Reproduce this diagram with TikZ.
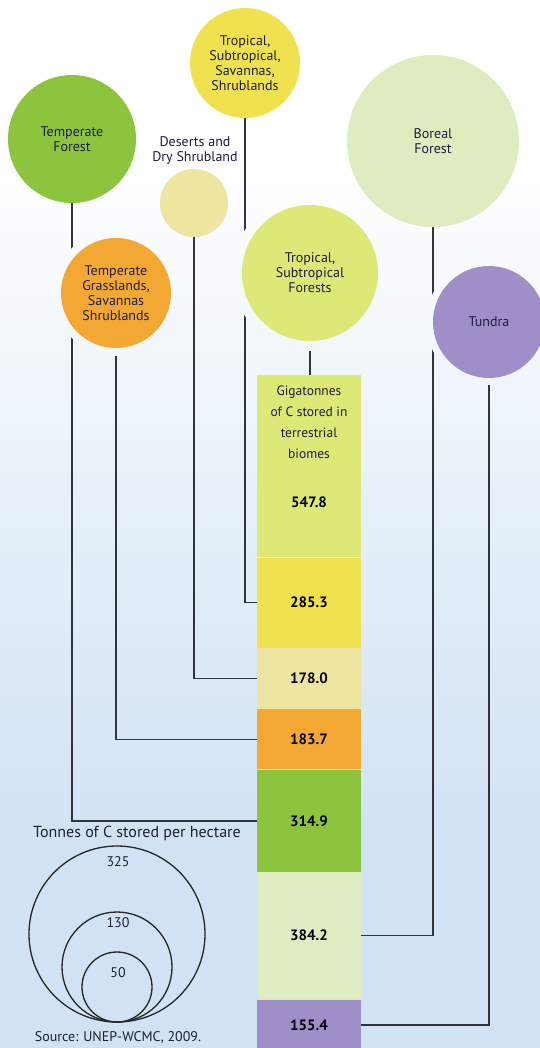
\documentclass[tikz,border=0pt]{standalone}
\usepackage{fontspec}
\setmainfont{PT Sans}

\pgfdeclarelayer{paper}
\pgfdeclarelayer{wires}
\pgfdeclarelayer{halo}
\pgfsetlayers{paper,wires,halo,main}

\definecolor{paperblue}{RGB}{208,226,243}
\definecolor{ink}{RGB}{30,30,62}
\definecolor{wirecol}{RGB}{50,52,60}
\definecolor{tempforest}{RGB}{141,196,62}
\definecolor{savanna}{RGB}{240,226,78}
\definecolor{desert}{RGB}{238,230,160}
\definecolor{boreal}{RGB}{222,236,192}
\definecolor{tropforest}{RGB}{222,232,118}
\definecolor{grassland}{RGB}{244,168,52}
\definecolor{tundra}{RGB}{160,142,200}

\begin{document}
\begin{tikzpicture}[x=1pt,y=1pt]
\tikzstyle{every node}+=[inner sep=0pt]
\tikzstyle{bubble}=[circle,text=ink,align=center,font=\fontsize{14}{15}\selectfont]
\tikzstyle{seg}=[rectangle,minimum width=104pt,anchor=north,text=black,font=\fontsize{15}{17}\selectfont\bfseries]
\tikzstyle{wire}=[draw=wirecol,line width=1.5pt]
\tikzstyle{ring}=[circle,draw=black!85,line width=1.3pt]
\useasboundingbox (0,0) rectangle (540,-1048);
\begin{pgfonlayer}{paper}
\fill [white] (0,0) rectangle (540,-1048);
\shade [top color=white,bottom color=paperblue] (0,-150) rectangle (540,-850);
\fill [paperblue] (0,-850) rectangle (540,-1048);
\end{pgfonlayer}
% biome bubbles
\node [bubble,fill=tempforest,minimum size=128pt] (tf) at (72,-139) {Temperate\\Forest};
\node [bubble,fill=savanna,minimum size=110pt] (sav) at (245,-63) {Tropical,\\Subtropical,\\Savannas,\\Shrublands};
\node [bubble,fill=desert,minimum size=68pt] (des) at (194,-203) {};
\node [text=ink,align=center,font=\fontsize{14}{15}\selectfont] (deslbl) at (195,-150) {Deserts and\\Dry Shrubland};
\node [bubble,fill=boreal,minimum size=172pt] (boreal) at (433,-141) {Boreal\\Forest};
\node [bubble,fill=tropforest,minimum size=136pt] (tropf) at (310,-273) {Tropical,\\Subtropical\\Forests};
\node [bubble,fill=grassland,minimum size=110pt] (grass) at (116,-293) {Temperate\\Grasslands,\\Savannas\\Shrublands};
\node [bubble,fill=tundra,minimum size=112pt] (tundra) at (489,-322) {Tundra};
% stacked bar
\node [seg,fill=tropforest,minimum height=182pt] (s1) at (309,-375) {};
\node [seg,fill=savanna,minimum height=90pt] (s2) at (s1.south) {285.3};
\node [seg,fill=desert,minimum height=61pt] (s3) at (s2.south) {178.0};
\node [seg,fill=grassland,minimum height=60pt] (s4) at (s3.south) {183.7};
\node [seg,fill=tempforest,minimum height=102pt] (s5) at (s4.south) {314.9};
\node [seg,fill=boreal,minimum height=127pt] (s6) at (s5.south) {384.2};
\node [seg,fill=tundra,minimum height=51pt] (s7) at (s6.south) {155.4};
\node [text=ink,align=center,font=\fontsize{13.5}{21}\selectfont] (bartitle) at (309,-422) {Gigatonnes\\of C stored in\\terrestrial\\biomes};
\node [font=\fontsize{15}{17}\selectfont\bfseries] (v1) at (309,-502) {547.8};
% connectors
\begin{pgfonlayer}{wires}
\draw [wire] (sav.south) |- (s2.west);
\draw [wire] (des.south) |- (s3.west);
\draw [wire] (grass.south) |- (s4.west);
\draw [wire] (tf.south) |- (s5.west);
\draw [wire] (boreal.south) |- (s6.east);
\draw [wire] (tundra.south) |- (s7.east);
\draw [wire] (tropf.south) -- (tropf.south |- s1.north);
\end{pgfonlayer}
% gaps where wires pass behind bubbles
\begin{pgfonlayer}{halo}
\shade [top color=paperblue!6!white,bottom color=paperblue!29!white] (tropf.center) circle (78);
\shade [top color=paperblue!11!white,bottom color=paperblue!29!white] (grass.center) circle (63);
\shade [top color=paperblue!16!white,bottom color=paperblue!34!white] (tundra.center) circle (63);
\end{pgfonlayer}
% legend
\node [text=ink,font=\fontsize{16}{18}\selectfont] (ltitle) at (137,-833) {Tonnes of C stored per hectare};
\node [ring,minimum size=176pt] (r325) at (117,-934) {};
\node [ring,minimum size=110pt] (r130) at (117,-967) {};
\node [ring,minimum size=70pt] (r50) at (117,-987) {};
\node [text=ink,font=\fontsize{14}{16}\selectfont] (n325) at (118,-862) {325};
\node [text=ink,font=\fontsize{14}{16}\selectfont] (n130) at (118,-923) {130};
\node [text=ink,font=\fontsize{14}{16}\selectfont] (n50) at (118,-973) {50};
\node [text=ink,font=\fontsize{14}{16}\selectfont] (src) at (118,-1038) {Source: UNEP-WCMC, 2009.};
\end{tikzpicture}
\end{document}
